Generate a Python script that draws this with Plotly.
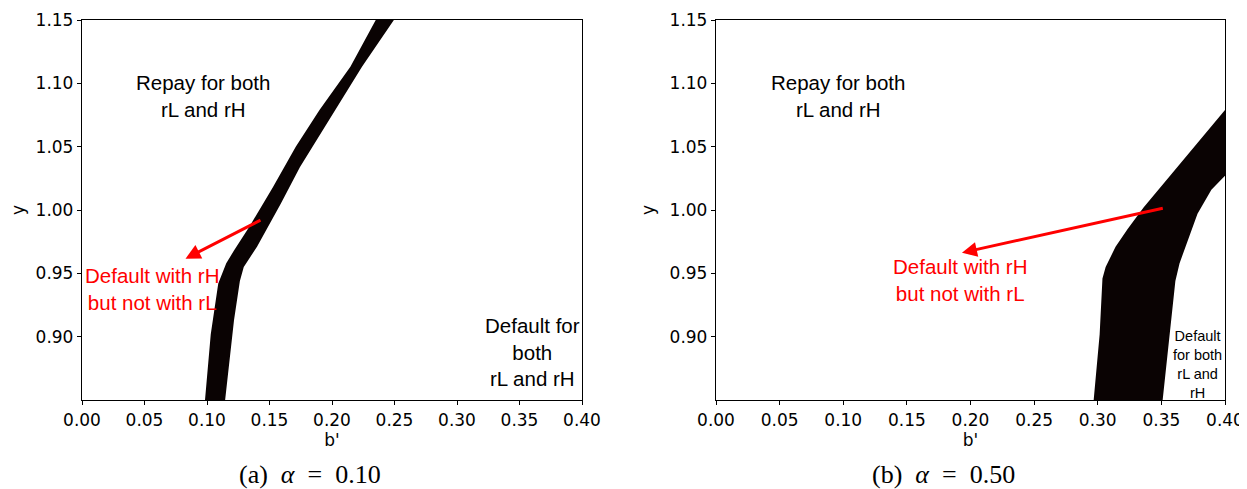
import plotly.graph_objects as go

# ---- data ----
# panel (a) alpha = 0.10 : boundaries of the black band
a_left_x = [0.0984, 0.103, 0.109, 0.1154, 0.1216, 0.134, 0.1527, 0.171, 0.190, 0.2147, 0.235]
a_left_y = [0.85, 0.902, 0.942, 0.958, 0.968, 0.987, 1.018, 1.050, 1.079, 1.113, 1.15]
a_right_x = [0.1145, 0.1216, 0.1263, 0.1294, 0.140, 0.159, 0.1744, 0.199, 0.224, 0.2495]
a_right_y = [0.85, 0.913, 0.944, 0.955, 0.971, 1.005, 1.034, 1.073, 1.113, 1.15]

# panel (b) alpha = 0.50
b_left_x = [0.2968, 0.3015, 0.3037, 0.3062, 0.314, 0.3235, 0.336, 0.3517, 0.3705, 0.3862, 0.40]
b_left_y = [0.85, 0.902, 0.946, 0.955, 0.971, 0.985, 1.002, 1.021, 1.044, 1.063, 1.079]
b_right_x = [0.351, 0.3564, 0.361, 0.3643, 0.3705, 0.3784, 0.3893, 0.40]
b_right_y = [0.85, 0.902, 0.944, 0.958, 0.976, 0.997, 1.016, 1.027]

x_ticks = [0.00, 0.05, 0.10, 0.15, 0.20, 0.25, 0.30, 0.35, 0.40]
y_ticks = [0.90, 0.95, 1.00, 1.05, 1.10, 1.15]
x_range = [0.0, 0.40]
y_range = [0.85, 1.15]

captions = ["(a)&nbsp;&nbsp;<i>α</i>&nbsp;&nbsp;=&nbsp;&nbsp;0.10",
            "(b)&nbsp;&nbsp;<i>α</i>&nbsp;&nbsp;=&nbsp;&nbsp;0.50"]

BAND = "#0a0303"
TICKFONT = dict(family="DejaVu Sans", size=17, color="black")
TXT = "Liberation Sans, Arial"

fig = go.Figure()

def band(lx, ly, rx, ry, xa, ya):
    xs = list(lx) + list(reversed(rx)) + [lx[0]]
    ys = list(ly) + list(reversed(ry)) + [ly[0]]
    fig.add_trace(go.Scatter(x=xs, y=ys, fill="toself", fillcolor=BAND,
                             mode="lines", line=dict(width=0, color=BAND),
                             xaxis=xa, yaxis=ya, showlegend=False,
                             hoverinfo="skip"))

band(a_left_x, a_left_y, a_right_x, a_right_y, "x", "y")
band(b_left_x, b_left_y, b_right_x, b_right_y, "x2", "y2")

# page body has an 8px margin -> figure is 8px smaller and offset
OFF = 8
W, H = 1247 - OFF, 489 - OFF

def px(xp):
    return (xp - OFF) / W

def py(yp):
    return 1 - (yp - OFF) / H

ydom = [py(400), py(20)]
xdom1 = [px(82), px(582)]
xdom2 = [px(716), px(1225)]

axis_common = dict(showline=True, linecolor="black", linewidth=1.3, mirror=True,
                   ticks="outside", ticklen=4, tickwidth=1.2, tickcolor="black",
                   showgrid=False, zeroline=False, tickfont=TICKFONT,
                   automargin=False)

xa = dict(axis_common, range=x_range, tickvals=x_ticks, tickformat=".2f",
          title=dict(text="b'", font=TICKFONT, standoff=5))
ya = dict(axis_common, range=y_range, tickvals=y_ticks, tickformat=".2f",
          title=dict(text="y", font=TICKFONT, standoff=10))

fig.update_layout(
    template="none",
    width=W, height=H, margin=dict(l=0, r=0, t=0, b=0, autoexpand=False),
    paper_bgcolor="white", plot_bgcolor="white",
    xaxis=dict(xa, domain=xdom1, anchor="y"),
    yaxis=dict(ya, domain=ydom, anchor="x"),
    xaxis2=dict(xa, domain=xdom2, anchor="y2"),
    yaxis2=dict(ya, domain=ydom, anchor="x2"),
)

ann = []
big = dict(family=TXT, size=20.5, color="black")
red = dict(family=TXT, size=20.5, color="red")
small = dict(family=TXT, size=14.5, color="black")

# panel (a)
ann.append(dict(x=0.0968, y=1.090, xref="x", yref="y", text="Repay for both<br>rL and rH",
                showarrow=False, font=big))
ann.append(dict(x=0.36, y=0.888, xref="x", yref="y", text="Default for<br>both<br>rL and rH",
                showarrow=False, font=big))
ann.append(dict(x=0.056, y=0.9376, xref="x", yref="y", text="Default with rH<br>but not with rL",
                showarrow=False, font=red))
ann.append(dict(x=0.0828, y=0.9616, ax=0.144, ay=0.9926, xref="x", yref="y",
                axref="x", ayref="y", text="", showarrow=True, arrowhead=2,
                arrowsize=1.0, arrowwidth=3, arrowcolor="red"))
# panel (b)
ann.append(dict(x=0.0959, y=1.090, xref="x2", yref="y2", text="Repay for both<br>rL and rH",
                showarrow=False, font=big))
ann.append(dict(x=0.378, y=0.8784, xref="x2", yref="y2", text="Default<br>for both<br>rL and<br>rH",
                showarrow=False, font=small))
ann.append(dict(x=0.1917, y=0.945, xref="x2", yref="y2", text="Default with rH<br>but not with rL",
                showarrow=False, font=red))
ann.append(dict(x=0.1933, y=0.9663, ax=0.3523, ay=1.0016, xref="x2", yref="y2",
                axref="x2", ayref="y2", text="", showarrow=True, arrowhead=2,
                arrowsize=1.0, arrowwidth=3, arrowcolor="red"))

# captions
capfont = dict(family="Liberation Serif, DejaVu Serif", size=26, color="black")
ann.append(dict(x=px(310), y=py(474), xref="paper", yref="paper", text=captions[0],
                xanchor="center", yanchor="middle", showarrow=False, font=capfont))
ann.append(dict(x=px(943), y=py(474), xref="paper", yref="paper", text=captions[1],
                xanchor="center", yanchor="middle", showarrow=False, font=capfont))

fig.update_layout(annotations=ann)
fig.write_html("out.html")
